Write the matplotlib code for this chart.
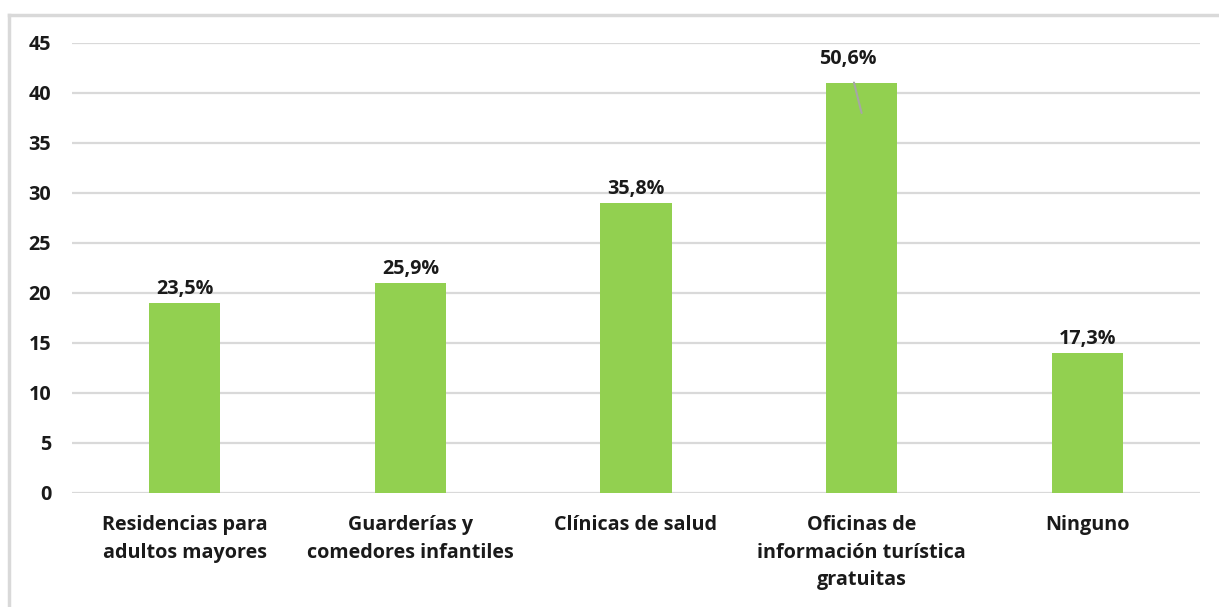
import numpy as np
import matplotlib.pyplot as plt

# datos
categorias = ["Residencias para\nadultos mayores", "Guarderías y\ncomedores infantiles",
              "Clínicas de salud", "Oficinas de\ninformación turística\ngratuitas", "Ninguno"]
valores = [19, 21, 29, 41, 14]
etiquetas = ["23,5%", "25,9%", "35,8%", "50,6%", "17,3%"]
yticks = [0, 5, 10, 15, 20, 25, 30, 35, 40, 45]

plt.rcParams['font.family'] = ['Open Sans', 'DejaVu Sans']
plt.rcParams['font.weight'] = 'bold'

fs = 14.2
col_txt = '#1a1a1a'

fig = plt.figure(figsize=(12.19, 6.07), dpi=100)
ax = fig.add_axes([72/1219, 1 - 493/607, 1128/1219, 450/607])

x = np.arange(len(categorias))
ax.bar(x, valores, width=0.315, color='#92D050', zorder=3)

ax.set_xlim(-0.5, len(categorias) - 0.5)
ax.set_ylim(0, 45)
ax.set_yticks(yticks)
ax.set_yticklabels([str(v) for v in yticks], fontsize=fs, fontweight='bold', color=col_txt)
ax.set_xticks(x)
ax.set_xticklabels(categorias, fontsize=fs, fontweight='bold', color=col_txt, linespacing=1.5)
ax.tick_params(axis='both', length=0)
ax.tick_params(axis='y', pad=15)
ax.tick_params(axis='x', pad=16)
ax.grid(axis='y', color='#d9d9d9', linewidth=1.6, zorder=0)
for s in ax.spines.values():
    s.set_visible(False)

# etiquetas de datos
for i, (v, t) in enumerate(zip(valores, etiquetas)):
    if i == 3:
        ax.annotate(t, xy=(i, v - 3.0), xytext=(i - 0.06, v + 2.4), ha='center', va='center',
                    fontsize=fs, fontweight='bold', color=col_txt,
                    arrowprops=dict(arrowstyle='-', color='#a6a6a6', lw=1.5, shrinkA=8, shrinkB=0))
    else:
        ax.text(i, v + 0.4, t, ha='center', va='bottom', fontsize=fs, fontweight='bold', color=col_txt)

# marco
fig.add_artist(plt.Line2D([9/1219, 9/1219], [0, 1 - 15/607], color='#d9d9d9', lw=2.5))
fig.add_artist(plt.Line2D([9/1219, 1], [1 - 15/607, 1 - 15/607], color='#d9d9d9', lw=2.5))

fig.savefig('out.png', dpi=100)
